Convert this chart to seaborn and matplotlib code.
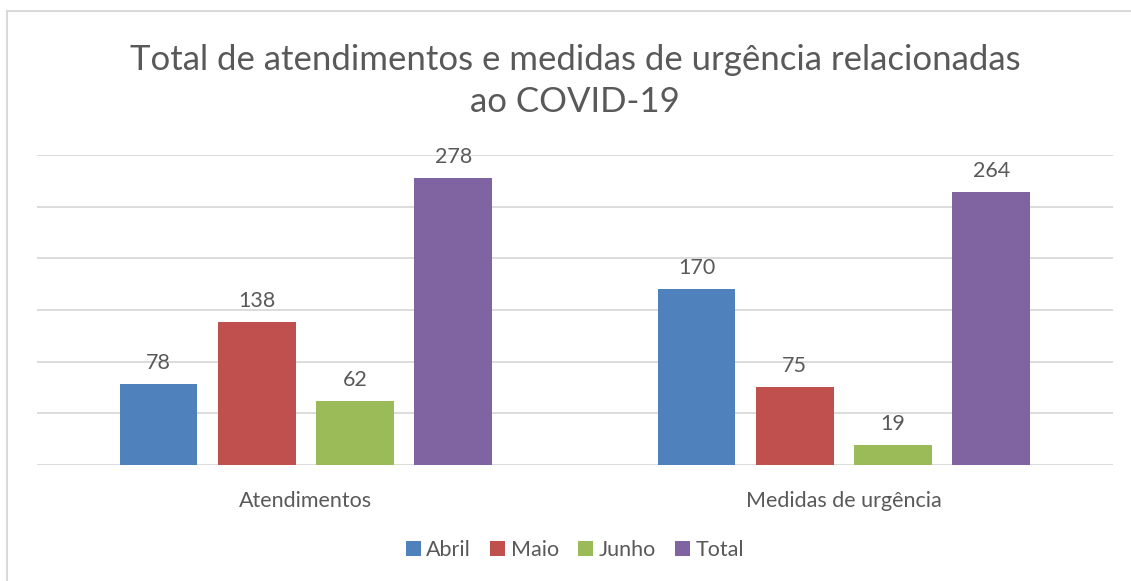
import pandas as pd
import seaborn as sns
import matplotlib
matplotlib.use('Agg')
import matplotlib.pyplot as plt
from matplotlib.patches import Rectangle

# chart data
categories = ['Atendimentos', 'Medidas de urgência']
months = ['Abril', 'Maio', 'Junho', 'Total']
abril = [78, 170]
maio = [138, 75]
junho = [62, 19]
total = [278, 264]

colors = ['#4F81BD', '#C0504D', '#9BBB59', '#8064A2']
text_color = '#595959'
grid_color = '#D9D9D9'

df = pd.DataFrame({
    'categoria': categories * 4,
    'mes': [m for m in months for _ in categories],
    'valor': abril + maio + junho + total,
})

sns.set_theme(style="white")
plt.rcParams['font.family'] = ['Lato', 'DejaVu Sans']

fig = plt.figure(figsize=(11.31, 5.81), dpi=100)
ax = fig.add_axes([0.0327, 0.2, 0.9513, 0.533])

sns.barplot(data=df, x='categoria', y='valor', hue='mes', hue_order=months,
            palette=colors, width=0.73, gap=0.21, ax=ax, legend=True,
            edgecolor='none', saturation=1)

ax.set_ylim(0, 300)
ax.set_yticks(range(0, 301, 50))
ax.yaxis.grid(True, color=grid_color, linewidth=1.3)
ax.set_axisbelow(True)
ax.tick_params(axis='y', left=False, labelleft=False)
ax.tick_params(axis='x', bottom=False, labelsize=15.5, labelcolor=text_color, pad=13)
for s in ax.spines.values():
    s.set_visible(False)
ax.set_xlabel('')
ax.set_ylabel('')

for cont in ax.containers:
    ax.bar_label(cont, padding=8, fontsize=15.5, color=text_color)

ax.set_title('Total de atendimentos e medidas de urgência relacionadas\nao COVID-19',
             fontsize=25, color=text_color, pad=31, linespacing=1.4)

handles, labels = ax.get_legend_handles_labels()
ax.legend(handles, labels, loc='center', bbox_to_anchor=(0.5, -0.275), ncol=4,
          frameon=False, fontsize=15.5, labelcolor=text_color,
          handlelength=0.7, handleheight=0.7, handletextpad=0.25, columnspacing=0.9)

fig.patches.append(Rectangle((0.0066, -0.2), 1.2, 1.181, transform=fig.transFigure,
                             fill=False, edgecolor='#D9D9D9', linewidth=1.5))

fig.savefig('out.png', dpi=100)
plt.close(fig)
